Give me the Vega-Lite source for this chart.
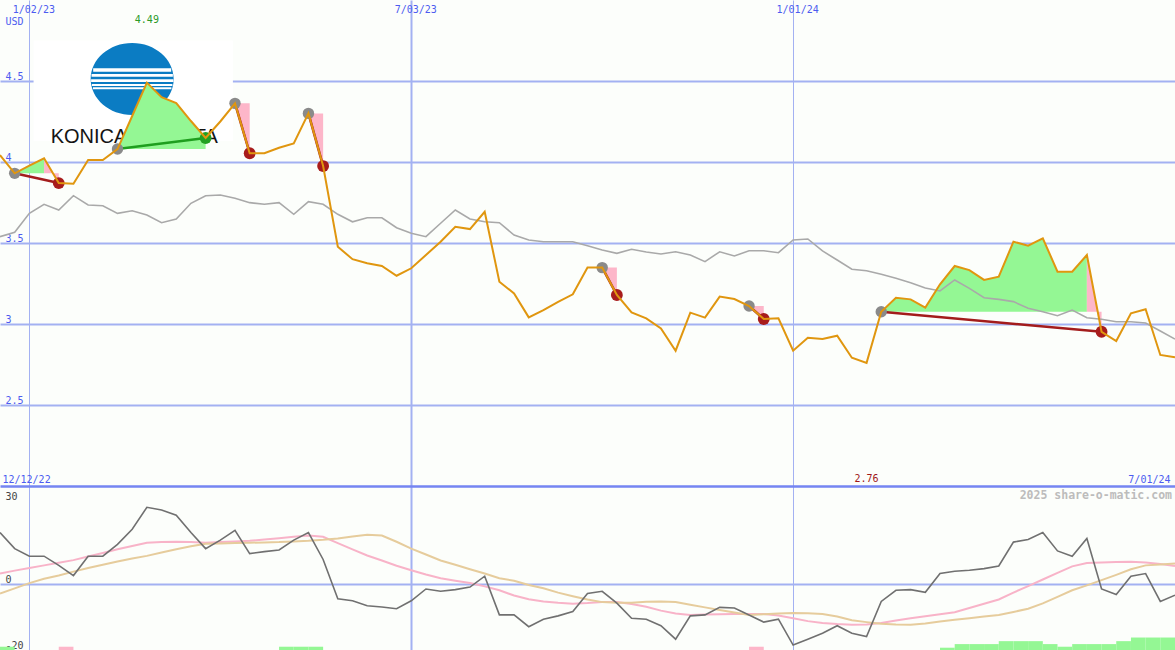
{
  "$schema": "https://vega.github.io/schema/vega-lite/v6.json",
  "background": "#fcfefb",
  "padding": 0,
  "spacing": 0,
  "bounds": "flush",
  "config": {
    "view": {"stroke": null},
    "axis": {"labelFont": "DejaVu Sans Mono", "labelFontSize": 10, "labelColor": "#4c5cf0", "ticks": false, "tickSize": 0, "domain": false, "gridColor": "#a3b1f2", "gridWidth": 2, "gridOpacity": 1, "labelOverlap": false, "labelFlush": false, "labelBound": false},
    "legend": {"disable": true}
  },
  "datasets": {
    "weekly": [
      {"date":"2022-12-19","price":4.043,"ma":3.539,"osc":15.8,"avg1":3.3,"avg2":-2.8},
      {"date":"2022-12-26","price":3.930,"ma":3.566,"osc":10.9,"avg1":4.2,"avg2":-1.2},
      {"date":"2023-01-02","price":3.977,"ma":3.683,"osc":8.6,"avg1":5.0,"avg2":0.4},
      {"date":"2023-01-09","price":4.023,"ma":3.739,"osc":8.6,"avg1":5.8,"avg2":1.7},
      {"date":"2023-01-16","price":3.870,"ma":3.704,"osc":5.8,"avg1":6.6,"avg2":2.7},
      {"date":"2023-01-23","price":3.866,"ma":3.792,"osc":2.7,"avg1":7.4,"avg2":3.9},
      {"date":"2023-01-30","price":4.012,"ma":3.735,"osc":8.6,"avg1":8.5,"avg2":5.0},
      {"date":"2023-02-06","price":4.012,"ma":3.730,"osc":8.6,"avg1":9.6,"avg2":6.0},
      {"date":"2023-02-13","price":4.080,"ma":3.683,"osc":12.2,"avg1":10.7,"avg2":7.0},
      {"date":"2023-02-20","price":4.284,"ma":3.699,"osc":16.8,"avg1":11.7,"avg2":7.9},
      {"date":"2023-02-27","price":4.490,"ma":3.673,"osc":23.5,"avg1":12.7,"avg2":8.7},
      {"date":"2023-03-06","price":4.400,"ma":3.625,"osc":22.7,"avg1":12.9,"avg2":9.7},
      {"date":"2023-03-13","price":4.364,"ma":3.648,"osc":21.1,"avg1":13.0,"avg2":10.7},
      {"date":"2023-03-20","price":4.253,"ma":3.745,"osc":15.8,"avg1":12.9,"avg2":11.6},
      {"date":"2023-03-27","price":4.148,"ma":3.792,"osc":10.9,"avg1":12.7,"avg2":12.4},
      {"date":"2023-04-03","price":4.250,"ma":3.796,"osc":13.5,"avg1":12.9,"avg2":12.5},
      {"date":"2023-04-10","price":4.362,"ma":3.776,"osc":16.5,"avg1":13.1,"avg2":12.6},
      {"date":"2023-04-17","price":4.054,"ma":3.749,"osc":9.4,"avg1":13.3,"avg2":12.7},
      {"date":"2023-04-24","price":4.054,"ma":3.739,"osc":10.0,"avg1":13.7,"avg2":12.8},
      {"date":"2023-05-01","price":4.088,"ma":3.749,"osc":10.5,"avg1":14.1,"avg2":12.9},
      {"date":"2023-05-08","price":4.115,"ma":3.677,"osc":13.5,"avg1":14.5,"avg2":13.1},
      {"date":"2023-05-15","price":4.300,"ma":3.755,"osc":15.8,"avg1":14.9,"avg2":13.3},
      {"date":"2023-05-22","price":3.975,"ma":3.739,"osc":7.6,"avg1":14.5,"avg2":13.6},
      {"date":"2023-05-29","price":3.477,"ma":3.677,"osc":-4.4,"avg1":12.6,"avg2":14.0},
      {"date":"2023-06-05","price":3.400,"ma":3.631,"osc":-5.0,"avg1":10.7,"avg2":14.6},
      {"date":"2023-06-12","price":3.375,"ma":3.656,"osc":-6.5,"avg1":8.8,"avg2":15.1},
      {"date":"2023-06-19","price":3.358,"ma":3.656,"osc":-6.9,"avg1":7.3,"avg2":14.9},
      {"date":"2023-06-26","price":3.298,"ma":3.594,"osc":-7.4,"avg1":5.7,"avg2":13.0},
      {"date":"2023-07-03","price":3.344,"ma":3.560,"osc":-5.0,"avg1":4.3,"avg2":10.9},
      {"date":"2023-07-10","price":3.426,"ma":3.539,"osc":-1.4,"avg1":3.0,"avg2":9.1},
      {"date":"2023-07-17","price":3.508,"ma":3.622,"osc":-2.1,"avg1":1.9,"avg2":7.3},
      {"date":"2023-07-24","price":3.600,"ma":3.704,"osc":-1.6,"avg1":1.1,"avg2":6.0},
      {"date":"2023-07-31","price":3.586,"ma":3.648,"osc":-0.8,"avg1":0.4,"avg2":4.6},
      {"date":"2023-08-07","price":3.693,"ma":3.631,"osc":2.5,"avg1":-0.6,"avg2":3.3},
      {"date":"2023-08-14","price":3.261,"ma":3.625,"osc":-9.3,"avg1":-1.8,"avg2":1.9},
      {"date":"2023-08-21","price":3.189,"ma":3.549,"osc":-9.3,"avg1":-3.4,"avg2":1.1},
      {"date":"2023-08-28","price":3.041,"ma":3.519,"osc":-12.9,"avg1":-4.5,"avg2":-0.2},
      {"date":"2023-09-04","price":3.086,"ma":3.508,"osc":-10.6,"avg1":-5.2,"avg2":-1.2},
      {"date":"2023-09-11","price":3.136,"ma":3.508,"osc":-9.6,"avg1":-5.6,"avg2":-2.5},
      {"date":"2023-09-18","price":3.183,"ma":3.508,"osc":-8.3,"avg1":-5.9,"avg2":-3.6},
      {"date":"2023-09-25","price":3.348,"ma":3.483,"osc":-2.8,"avg1":-5.7,"avg2":-4.6},
      {"date":"2023-10-02","price":3.348,"ma":3.457,"osc":-2.1,"avg1":-5.4,"avg2":-5.4},
      {"date":"2023-10-09","price":3.179,"ma":3.436,"osc":-5.7,"avg1":-5.4,"avg2":-5.6},
      {"date":"2023-10-16","price":3.072,"ma":3.461,"osc":-10.3,"avg1":-6.0,"avg2":-5.6},
      {"date":"2023-10-23","price":3.035,"ma":3.444,"osc":-10.6,"avg1":-6.8,"avg2":-5.3},
      {"date":"2023-10-30","price":2.973,"ma":3.432,"osc":-12.6,"avg1":-8.0,"avg2":-5.2},
      {"date":"2023-11-06","price":2.835,"ma":3.446,"osc":-16.7,"avg1":-8.9,"avg2":-5.4},
      {"date":"2023-11-13","price":3.070,"ma":3.426,"osc":-9.6,"avg1":-9.3,"avg2":-6.2},
      {"date":"2023-11-20","price":3.039,"ma":3.385,"osc":-9.3,"avg1":-9.2,"avg2":-7.0},
      {"date":"2023-11-27","price":3.169,"ma":3.446,"osc":-7.0,"avg1":-9.1,"avg2":-7.8},
      {"date":"2023-12-04","price":3.154,"ma":3.420,"osc":-7.2,"avg1":-9.0,"avg2":-8.6},
      {"date":"2023-12-11","price":3.111,"ma":3.452,"osc":-9.3,"avg1":-9.0,"avg2":-9.3},
      {"date":"2023-12-18","price":3.031,"ma":3.452,"osc":-11.5,"avg1":-9.0,"avg2":-9.1},
      {"date":"2023-12-25","price":3.035,"ma":3.440,"osc":-10.6,"avg1":-9.5,"avg2":-8.9},
      {"date":"2024-01-01","price":2.835,"ma":3.519,"osc":-18.5,"avg1":-10.3,"avg2":-8.7},
      {"date":"2024-01-08","price":2.915,"ma":3.525,"osc":-16.7,"avg1":-11.2,"avg2":-8.8},
      {"date":"2024-01-15","price":2.907,"ma":3.451,"osc":-14.9,"avg1":-11.8,"avg2":-9.0},
      {"date":"2024-01-22","price":2.928,"ma":3.395,"osc":-12.6,"avg1":-12.1,"avg2":-9.8},
      {"date":"2024-01-29","price":2.792,"ma":3.338,"osc":-14.9,"avg1":-12.3,"avg2":-10.9},
      {"date":"2024-02-05","price":2.760,"ma":3.329,"osc":-15.9,"avg1":-12.2,"avg2":-11.5},
      {"date":"2024-02-12","price":3.076,"ma":3.307,"osc":-5.2,"avg1":-11.8,"avg2":-12.0},
      {"date":"2024-02-19","price":3.162,"ma":3.282,"osc":-1.8,"avg1":-11.0,"avg2":-12.2},
      {"date":"2024-02-26","price":3.152,"ma":3.255,"osc":-1.6,"avg1":-10.3,"avg2":-12.3},
      {"date":"2024-03-04","price":3.101,"ma":3.222,"osc":-2.4,"avg1":-9.7,"avg2":-11.9},
      {"date":"2024-03-11","price":3.245,"ma":3.204,"osc":3.3,"avg1":-9.1,"avg2":-11.3},
      {"date":"2024-03-18","price":3.358,"ma":3.272,"osc":4.0,"avg1":-8.5,"avg2":-10.8},
      {"date":"2024-03-25","price":3.333,"ma":3.220,"osc":4.3,"avg1":-7.2,"avg2":-10.3},
      {"date":"2024-04-01","price":3.272,"ma":3.162,"osc":4.8,"avg1":-5.9,"avg2":-9.8},
      {"date":"2024-04-08","price":3.292,"ma":3.152,"osc":5.6,"avg1":-4.6,"avg2":-9.3},
      {"date":"2024-04-15","price":3.508,"ma":3.138,"osc":12.9,"avg1":-2.5,"avg2":-8.4},
      {"date":"2024-04-22","price":3.483,"ma":3.097,"osc":13.7,"avg1":-0.5,"avg2":-7.4},
      {"date":"2024-04-29","price":3.529,"ma":3.076,"osc":15.8,"avg1":1.5,"avg2":-5.8},
      {"date":"2024-05-06","price":3.323,"ma":3.051,"osc":10.2,"avg1":3.5,"avg2":-3.8},
      {"date":"2024-05-13","price":3.323,"ma":3.086,"osc":8.6,"avg1":5.5,"avg2":-1.8},
      {"date":"2024-05-20","price":3.426,"ma":3.039,"osc":14.0,"avg1":6.5,"avg2":-0.3},
      {"date":"2024-05-27","price":2.952,"ma":3.029,"osc":-1.4,"avg1":6.7,"avg2":1.3},
      {"date":"2024-06-03","price":2.895,"ma":3.014,"osc":-3.1,"avg1":6.8,"avg2":2.9},
      {"date":"2024-06-10","price":3.066,"ma":3.014,"osc":2.5,"avg1":6.9,"avg2":4.6},
      {"date":"2024-06-17","price":3.091,"ma":3.006,"osc":3.3,"avg1":6.7,"avg2":5.8},
      {"date":"2024-06-24","price":2.809,"ma":2.957,"osc":-5.2,"avg1":6.2,"avg2":6.1},
      {"date":"2024-07-01","price":2.794,"ma":2.907,"osc":-3.3,"avg1":5.6,"avg2":6.4}
    ],
    "trades": [
      {"trade":1,"entryDate":"2022-12-26","entryPrice":3.930,"exitDate":"2023-01-16","exitPrice":3.870,"result":"loss"},
      {"trade":2,"entryDate":"2023-02-13","entryPrice":4.080,"exitDate":"2023-03-27","exitPrice":4.148,"result":"gain"},
      {"trade":3,"entryDate":"2023-04-10","entryPrice":4.362,"exitDate":"2023-04-17","exitPrice":4.054,"result":"loss"},
      {"trade":4,"entryDate":"2023-05-15","entryPrice":4.300,"exitDate":"2023-05-22","exitPrice":3.975,"result":"loss"},
      {"trade":5,"entryDate":"2023-10-02","entryPrice":3.348,"exitDate":"2023-10-09","exitPrice":3.179,"result":"loss"},
      {"trade":6,"entryDate":"2023-12-11","entryPrice":3.111,"exitDate":"2023-12-18","exitPrice":3.031,"result":"loss"},
      {"trade":7,"entryDate":"2024-02-12","entryPrice":3.076,"exitDate":"2024-05-27","exitPrice":2.952,"result":"loss"}
    ],
    "fills": [
      {"seg":"1g","kind":"gain","date":"2022-12-26","price":3.930,"entry":3.930},
      {"seg":"1g","kind":"gain","date":"2023-01-02","price":3.977,"entry":3.930},
      {"seg":"1g","kind":"gain","date":"2023-01-09","price":4.023,"entry":3.930},
      {"seg":"1l","kind":"loss","date":"2023-01-09","price":4.023,"entry":3.930},
      {"seg":"1l","kind":"loss","date":"2023-01-16","price":3.870,"entry":3.930},
      {"seg":"2g","kind":"gain","date":"2023-02-13","price":4.080,"entry":4.080},
      {"seg":"2g","kind":"gain","date":"2023-02-20","price":4.284,"entry":4.080},
      {"seg":"2g","kind":"gain","date":"2023-02-27","price":4.490,"entry":4.080},
      {"seg":"2g","kind":"gain","date":"2023-03-06","price":4.400,"entry":4.080},
      {"seg":"2g","kind":"gain","date":"2023-03-13","price":4.364,"entry":4.080},
      {"seg":"2g","kind":"gain","date":"2023-03-20","price":4.253,"entry":4.080},
      {"seg":"2g","kind":"gain","date":"2023-03-27","price":4.148,"entry":4.080},
      {"seg":"3l","kind":"loss","date":"2023-04-10","price":4.362,"entry":4.362},
      {"seg":"3l","kind":"loss","date":"2023-04-17","price":4.054,"entry":4.362},
      {"seg":"4l","kind":"loss","date":"2023-05-15","price":4.300,"entry":4.300},
      {"seg":"4l","kind":"loss","date":"2023-05-22","price":3.975,"entry":4.300},
      {"seg":"5l","kind":"loss","date":"2023-10-02","price":3.348,"entry":3.348},
      {"seg":"5l","kind":"loss","date":"2023-10-09","price":3.179,"entry":3.348},
      {"seg":"6l","kind":"loss","date":"2023-12-11","price":3.111,"entry":3.111},
      {"seg":"6l","kind":"loss","date":"2023-12-18","price":3.031,"entry":3.111},
      {"seg":"7g","kind":"gain","date":"2024-02-12","price":3.076,"entry":3.076},
      {"seg":"7g","kind":"gain","date":"2024-02-19","price":3.162,"entry":3.076},
      {"seg":"7g","kind":"gain","date":"2024-02-26","price":3.152,"entry":3.076},
      {"seg":"7g","kind":"gain","date":"2024-03-04","price":3.101,"entry":3.076},
      {"seg":"7g","kind":"gain","date":"2024-03-11","price":3.245,"entry":3.076},
      {"seg":"7g","kind":"gain","date":"2024-03-18","price":3.358,"entry":3.076},
      {"seg":"7g","kind":"gain","date":"2024-03-25","price":3.333,"entry":3.076},
      {"seg":"7g","kind":"gain","date":"2024-04-01","price":3.272,"entry":3.076},
      {"seg":"7g","kind":"gain","date":"2024-04-08","price":3.292,"entry":3.076},
      {"seg":"7g","kind":"gain","date":"2024-04-15","price":3.508,"entry":3.076},
      {"seg":"7g","kind":"gain","date":"2024-04-22","price":3.483,"entry":3.076},
      {"seg":"7g","kind":"gain","date":"2024-04-29","price":3.529,"entry":3.076},
      {"seg":"7g","kind":"gain","date":"2024-05-06","price":3.323,"entry":3.076},
      {"seg":"7g","kind":"gain","date":"2024-05-13","price":3.323,"entry":3.076},
      {"seg":"7g","kind":"gain","date":"2024-05-20","price":3.426,"entry":3.076},
      {"seg":"7l","kind":"loss","date":"2024-05-20","price":3.426,"entry":3.076},
      {"seg":"7l","kind":"loss","date":"2024-05-27","price":2.952,"entry":3.076}
    ],
    "bars": [
      {"date":"2022-12-19","end":"2022-12-26","level":-19.0,"kind":"gain"},
      {"date":"2023-01-16","end":"2023-01-23","level":-19.0,"kind":"loss"},
      {"date":"2023-05-01","end":"2023-05-08","level":-19.0,"kind":"gain"},
      {"date":"2023-05-08","end":"2023-05-15","level":-19.0,"kind":"gain"},
      {"date":"2023-05-15","end":"2023-05-22","level":-19.0,"kind":"gain"},
      {"date":"2023-12-11","end":"2023-12-18","level":-19.0,"kind":"loss"},
      {"date":"2024-03-11","end":"2024-03-18","level":-19.3,"kind":"gain"},
      {"date":"2024-03-18","end":"2024-03-25","level":-18.2,"kind":"gain"},
      {"date":"2024-03-25","end":"2024-04-01","level":-18.2,"kind":"gain"},
      {"date":"2024-04-01","end":"2024-04-08","level":-18.2,"kind":"gain"},
      {"date":"2024-04-08","end":"2024-04-15","level":-17.3,"kind":"gain"},
      {"date":"2024-04-15","end":"2024-04-22","level":-17.3,"kind":"gain"},
      {"date":"2024-04-22","end":"2024-04-29","level":-17.3,"kind":"gain"},
      {"date":"2024-04-29","end":"2024-05-06","level":-18.2,"kind":"gain"},
      {"date":"2024-05-06","end":"2024-05-13","level":-19.0,"kind":"gain"},
      {"date":"2024-05-13","end":"2024-05-20","level":-18.2,"kind":"gain"},
      {"date":"2024-05-20","end":"2024-05-27","level":-18.2,"kind":"gain"},
      {"date":"2024-05-27","end":"2024-06-03","level":-18.2,"kind":"gain"},
      {"date":"2024-06-03","end":"2024-06-10","level":-17.3,"kind":"gain"},
      {"date":"2024-06-10","end":"2024-06-17","level":-16.2,"kind":"gain"},
      {"date":"2024-06-17","end":"2024-06-24","level":-16.2,"kind":"gain"},
      {"date":"2024-06-24","end":"2024-07-01","level":-16.2,"kind":"gain"}
    ],
    "extremes": [
      {"kind":"max","date":"2023-02-27","price":4.49},
      {"kind":"min","date":"2024-02-05","price":2.76}
    ],
    "logo": [
      {"part":"box","date":"2023-01-04","end":"2023-04-09","price":4.75,"low":4.13,"label":""},
      {"part":"globe","date":"2023-02-20","end":"2023-02-20","price":4.512,"low":4.512,"label":""},
      {"part":"word","date":"2023-02-20","end":"2023-02-20","price":4.117,"low":4.117,"label":"KONICA MINOLTA"}
    ]
  },
  "vconcat": [
    {
      "width": 1175,
      "height": 486,
      "resolve": {"scale": {"color": "independent"}},
      "layer": [
        {
          "data": {"name": "logo"},
          "transform": [{"filter": "datum.part == 'box'"}],
          "mark": {"type": "rect", "color": "#ffffff", "opacity": 1},
          "encoding": {
            "x": {"field": "date", "type": "temporal", "scale": {"type": "utc", "domain": [{"year": 2022, "month": 12, "date": 19, "utc": true}, {"year": 2024, "month": 7, "date": 1, "utc": true}]},
              "axis": {"orient": "top", "title": null, "values": [{"year": 2023, "month": 1, "date": 2, "utc": true}, {"year": 2023, "month": 7, "date": 3, "utc": true}, {"year": 2024, "month": 1, "date": 1, "utc": true}], "labelExpr": "utcFormat(datum.value, '%-m/%d/%y')", "labelBaseline": "top", "labelPadding": -4, "labelOffset": 4, "labelAlign": "center", "gridWidth": {"condition": {"test": "utcmonth(datum.value) == 6", "value": 2}, "value": 1}}},
            "x2": {"field": "end"},
            "y": {"field": "price", "type": "quantitative", "scale": {"domain": [2, 5], "nice": false, "zero": false},
              "axis": {"orient": "left", "values": [2.5, 3, 3.5, 4, 4.5], "labelExpr": "toString(datum.value)", "labelAlign": "left", "labelPadding": -5, "labelBaseline": "bottom", "title": "USD", "titleAngle": 0, "titleX": 5, "titleY": 16, "titleAlign": "left", "titleBaseline": "top", "titleFont": "DejaVu Sans Mono", "titleFontSize": 10, "titleFontWeight": "normal", "titleColor": "#4c5cf0"}},
            "y2": {"field": "low"}
          }
        },
        {
          "data": {"name": "logo"},
          "transform": [{"filter": "datum.part == 'globe'"}],
          "mark": {"type": "point", "shape": "M1,0C1,0.479,0.552,0.867,0,0.867C-0.552,0.867,-1,0.479,-1,0C-1,-0.479,-0.552,-0.867,0,-0.867C0.552,-0.867,1,-0.479,1,0Z M-0.94,-0.258L-0.94,-0.176L0.94,-0.176L0.94,-0.258Z M-0.98,-0.12L-0.98,-0.055L0.98,-0.055L0.98,-0.12Z M-0.99,0.007L-0.99,0.072L0.99,0.072L0.99,0.007Z M-0.97,0.12L-0.97,0.169L0.97,0.169L0.97,0.12Z M-0.945,0.2L-0.945,0.248L0.945,0.248L0.945,0.2Z", "filled": true, "size": 6889, "color": "#0b7cc3", "opacity": 1, "strokeWidth": 0},
          "encoding": {
            "x": {"field": "date", "type": "temporal", "axis": {"title": null}},
            "y": {"field": "price", "type": "quantitative", "axis": {"title": "USD"}}
          }
        },
        {
          "data": {"name": "logo"},
          "transform": [{"filter": "datum.part == 'word'"}],
          "mark": {"type": "text", "font": "Liberation Sans", "fontSize": 20, "color": "#141414", "baseline": "alphabetic", "align": "center", "dx": 2},
          "encoding": {
            "x": {"field": "date", "type": "temporal", "axis": {"title": null}},
            "y": {"field": "price", "type": "quantitative", "axis": {"title": "USD"}},
            "text": {"field": "label"}
          }
        },
        {
          "data": {"name": "fills"},
          "mark": {"type": "area", "opacity": 1},
          "encoding": {
            "x": {"field": "date", "type": "temporal", "axis": {"title": null}},
            "y": {"field": "price", "type": "quantitative", "axis": {"title": "USD"}},
            "y2": {"field": "entry"},
            "detail": {"field": "seg"},
            "color": {"field": "kind", "type": "nominal", "scale": {"domain": ["gain", "loss"], "range": ["#94f794", "#fdb6c9"]}, "legend": null}
          }
        },
        {
          "data": {"name": "weekly"},
          "mark": {"type": "line", "color": "#a9a9a9", "strokeWidth": 1.6, "clip": true},
          "encoding": {
            "x": {"field": "date", "type": "temporal", "axis": {"title": null}},
            "y": {"field": "ma", "type": "quantitative", "axis": {"title": "USD"}}
          }
        },
        {
          "data": {"name": "trades"},
          "mark": {"type": "rule", "strokeWidth": 2.5},
          "encoding": {
            "x": {"field": "entryDate", "type": "temporal", "axis": {"title": null}},
            "x2": {"field": "exitDate"},
            "y": {"field": "entryPrice", "type": "quantitative", "axis": {"title": "USD"}},
            "y2": {"field": "exitPrice"},
            "color": {"field": "result", "type": "nominal", "scale": {"domain": ["gain", "loss"], "range": ["#1f9e1f", "#a31c1c"]}, "legend": null}
          }
        },
        {
          "data": {"name": "trades"},
          "mark": {"type": "circle", "size": 130, "opacity": 1, "color": "#8a8a8a"},
          "encoding": {
            "x": {"field": "entryDate", "type": "temporal", "axis": {"title": null}},
            "y": {"field": "entryPrice", "type": "quantitative", "axis": {"title": "USD"}}
          }
        },
        {
          "data": {"name": "trades"},
          "mark": {"type": "circle", "size": 140, "opacity": 1},
          "encoding": {
            "x": {"field": "exitDate", "type": "temporal", "axis": {"title": null}},
            "y": {"field": "exitPrice", "type": "quantitative", "axis": {"title": "USD"}},
            "color": {"field": "result", "type": "nominal", "scale": {"domain": ["gain", "loss"], "range": ["#22a022", "#a81c1c"]}, "legend": null}
          }
        },
        {
          "data": {"name": "weekly"},
          "mark": {"type": "line", "color": "#e0960f", "strokeWidth": 2, "clip": true},
          "encoding": {
            "x": {"field": "date", "type": "temporal", "axis": {"title": null}},
            "y": {"field": "price", "type": "quantitative", "axis": {"title": "USD"}}
          }
        },
        {
          "data": {"name": "extremes"},
          "transform": [{"filter": "datum.kind == 'max'"}],
          "mark": {"type": "text", "font": "DejaVu Sans Mono", "fontSize": 10, "color": "#2a9a2a", "baseline": "middle", "align": "center"},
          "encoding": {
            "x": {"field": "date", "type": "temporal", "axis": {"title": null}},
            "y": {"datum": 4.877, "type": "quantitative", "axis": {"title": "USD"}},
            "text": {"field": "price", "type": "quantitative", "format": ".2f"}
          }
        },
        {
          "data": {"name": "extremes"},
          "transform": [{"filter": "datum.kind == 'min'"}],
          "mark": {"type": "text", "font": "DejaVu Sans Mono", "fontSize": 10, "color": "#a01818", "baseline": "middle", "align": "center"},
          "encoding": {
            "x": {"field": "date", "type": "temporal", "axis": {"title": null}},
            "y": {"datum": 2.043, "type": "quantitative", "axis": {"title": "USD"}},
            "text": {"field": "price", "type": "quantitative", "format": ".2f"}
          }
        }
      ]
    },
    {
      "width": 1175,
      "height": 164,
      "layer": [
        {
          "data": {"name": "bars"},
          "mark": {"type": "rect"},
          "encoding": {
            "x": {"field": "date", "type": "temporal", "scale": {"type": "utc", "domain": [{"year": 2022, "month": 12, "date": 19, "utc": true}, {"year": 2024, "month": 7, "date": 1, "utc": true}]},
              "axis": {"orient": "top", "title": null, "values": [{"year": 2022, "month": 12, "date": 19, "utc": true}, {"year": 2023, "month": 1, "date": 2, "utc": true}, {"year": 2023, "month": 7, "date": 3, "utc": true}, {"year": 2024, "month": 1, "date": 1, "utc": true}, {"year": 2024, "month": 7, "date": 1, "utc": true}],
                "labelExpr": "utcyear(datum.value) == 2022 ? '12/12/22' : ((utcyear(datum.value) == 2024 && utcmonth(datum.value) == 6) ? '7/01/24' : '')",
                "labelAlign": {"condition": {"test": "utcyear(datum.value) == 2022", "value": "left"}, "value": "right"},
                "labelOffset": {"condition": {"test": "utcyear(datum.value) == 2022", "value": 2}, "value": -5},
                "labelBaseline": "bottom", "labelPadding": 1.5,
                "domain": true, "domainColor": "#7585f2", "domainWidth": 2.5,
                "gridOpacity": {"condition": {"test": "utcyear(datum.value) == 2022 || (utcyear(datum.value) == 2024 && utcmonth(datum.value) == 6)", "value": 0}, "value": 1},
                "gridWidth": {"condition": {"test": "utcyear(datum.value) == 2023 && utcmonth(datum.value) == 6", "value": 2}, "value": 1}}},
            "x2": {"field": "end"},
            "y": {"field": "level", "type": "quantitative", "scale": {"domain": [-20, 30], "nice": false, "zero": false},
              "axis": {"orient": "left", "title": null, "values": [30, 0, -20], "labelExpr": "toString(datum.value)", "labelAlign": "left", "labelPadding": -5, "labelColor": "#444444",
                "labelBaseline": {"condition": {"test": "datum.value == 30", "value": "top"}, "value": "bottom"},
                "labelOffset": {"condition": {"test": "datum.value == 30", "value": 5}, "value": 0},
                "gridOpacity": {"condition": {"test": "datum.value == 0", "value": 1}, "value": 0}}},
            "y2": {"datum": -20},
            "color": {"field": "kind", "type": "nominal", "scale": {"domain": ["gain", "loss"], "range": ["#94f794", "#fdb6c9"]}, "legend": null}
          }
        },
        {
          "data": {"name": "weekly"},
          "mark": {"type": "line", "color": "#f8b3c8", "strokeWidth": 2, "clip": true},
          "encoding": {
            "x": {"field": "date", "type": "temporal", "axis": {"title": null}},
            "y": {"field": "avg1", "type": "quantitative", "axis": {"title": null}}
          }
        },
        {
          "data": {"name": "weekly"},
          "mark": {"type": "line", "color": "#e6cc9c", "strokeWidth": 2, "clip": true},
          "encoding": {
            "x": {"field": "date", "type": "temporal", "axis": {"title": null}},
            "y": {"field": "avg2", "type": "quantitative", "axis": {"title": null}}
          }
        },
        {
          "data": {"name": "weekly"},
          "mark": {"type": "line", "color": "#707070", "strokeWidth": 1.6, "clip": true},
          "encoding": {
            "x": {"field": "date", "type": "temporal", "axis": {"title": null}},
            "y": {"field": "osc", "type": "quantitative", "axis": {"title": null}}
          }
        },
        {
          "data": {"values": [{"label": "2025 share-o-matic.com"}]},
          "mark": {"type": "text", "font": "DejaVu Sans Mono", "fontWeight": "bold", "fontSize": 11.5, "color": "#bcbcbc", "align": "right", "baseline": "middle", "dx": -3},
          "encoding": {
            "x": {"datum": {"year": 2024, "month": 7, "date": 1, "utc": true}, "type": "temporal", "axis": {"title": null}},
            "y": {"datum": 27, "type": "quantitative", "axis": {"title": null}},
            "text": {"field": "label"}
          }
        }
      ]
    }
  ]
}
